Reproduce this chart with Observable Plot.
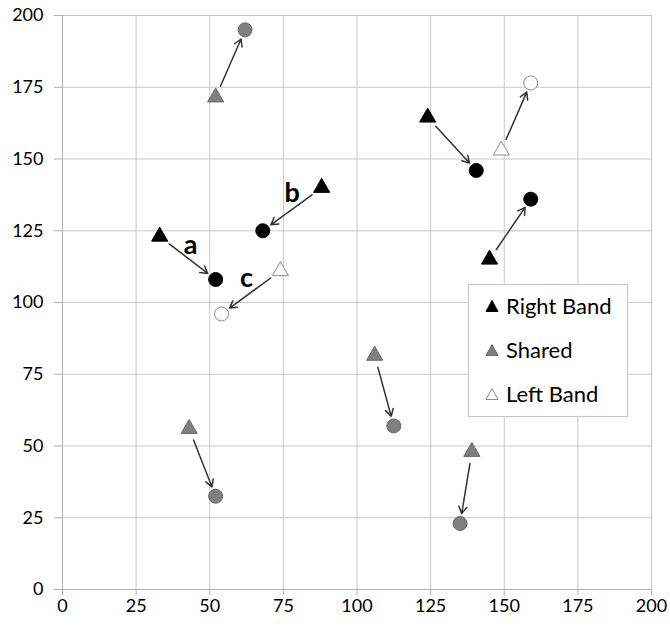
<!DOCTYPE html>
<html>
<head>
<meta charset="utf-8">
<script src="https://cdn.jsdelivr.net/npm/d3@7"></script>
<script src="https://cdn.jsdelivr.net/npm/@observablehq/plot@0.6"></script>
<style>
  html, body { margin: 0; padding: 0; background: #fff; }
  #wrap { position: relative; width: 670px; height: 636px; font-family: Lato, "Open Sans", sans-serif; }
  #legend { position: absolute; left: 468px; top: 284px; width: 160px; height: 133px;
            border: 1px solid #c4c4c4; background: #fff; box-sizing: border-box; }
  .item { position: absolute; left: 16px; display: flex; align-items: center; font-size: 22px; color: #000; }
  .item svg { margin-right: 7px; }
</style>
</head>
<body>
<div id="wrap"></div>
<script>
// --- data ---
const band   = ["shared", "right", "right", "left", "right", "left", "right", "shared", "shared", "shared"];
const startX = [52, 33, 88, 74, 124, 149, 145, 106, 43, 139];      // triangles
const startY = [171.5, 123, 140, 111, 164.5, 153, 115, 81.5, 56, 48];
const endX   = [62, 52, 68, 54, 140.5, 159, 159, 112.5, 52, 135]; // circles
const endY   = [195, 108, 125, 96, 146, 176.5, 136, 57, 32.5, 23];

const labelText = ["a", "b", "c"];
const labelX = [43.5, 78, 62.5];
const labelY = [120, 138, 108.5];

const xTicks = [0, 25, 50, 75, 100, 125, 150, 175, 200];
const yTicks = [0, 25, 50, 75, 100, 125, 150, 175, 200];

const legendKeys   = ["right", "shared", "left"];
const legendLabels = ["Right Band", "Shared", "Left Band"];
const bandFill   = {right: "#000000", shared: "#7f7f7f", left: "#ffffff"};
const bandStroke = {right: "#000000", shared: "#6a6a6a", left: "#8a8a8a"};

// --- build ---
const rows = band.map((b, i) => ({band: b, x1: startX[i], y1: startY[i], x2: endX[i], y2: endY[i]}));
const labels = labelText.map((t, i) => ({t, x: labelX[i], y: labelY[i]}));

const hasAxisMarks = typeof Plot.axisY === "function";

const marks = [
  Plot.ruleX(xTicks, {stroke: "#c8c8c8", strokeWidth: 1}),
  Plot.ruleY(yTicks, {stroke: "#c8c8c8", strokeWidth: 1}),
  Plot.ruleX([0], {stroke: "#b0b0b0"}),
  Plot.ruleY([0], {stroke: "#b0b0b0"})
];
if (hasAxisMarks) {
  marks.push(Plot.axisX({ticks: xTicks, tickSize: 6, tickPadding: 4, label: null, stroke: "#b0b0b0", color: "#000"}));
  marks.push(Plot.axisY({ticks: yTicks, tickSize: 8, tickPadding: 11, label: null, stroke: "#b0b0b0", color: "#000"}));
}
marks.push(Plot.arrow(rows, {x1: "x1", y1: "y1", x2: "x2", y2: "y2", stroke: "#333", strokeWidth: 1.5,
                    insetStart: 12, insetEnd: 10, headLength: 8}));
for (const k of legendKeys) {
  const sub = rows.filter(d => d.band === k);
  marks.push(Plot.dot(sub, {x: "x1", y: "y1", symbol: "triangle", r: 6, fill: bandFill[k], stroke: bandStroke[k], strokeWidth: 1}));
  marks.push(Plot.dot(sub, {x: "x2", y: "y2", symbol: "circle", r: 7, fill: bandFill[k], stroke: bandStroke[k], strokeWidth: 1}));
}
marks.push(Plot.text(labels, {x: "x", y: "y", text: "t", fontSize: 27, fontWeight: "bold", fill: "#000"}));

const chart = Plot.plot({
  width: 670,
  height: 636,
  marginLeft: 62,
  marginRight: 19,
  marginTop: 15,
  marginBottom: 47,
  style: {fontFamily: "Lato, 'Open Sans', sans-serif", fontSize: "18px", background: "#fff", color: "#000"},
  x: hasAxisMarks ? {domain: [0, 200], axis: null} :
     {domain: [0, 200], ticks: xTicks, tickSize: 6, tickPadding: 4, label: null, line: false},
  y: hasAxisMarks ? {domain: [0, 200], axis: null} :
     {domain: [0, 200], ticks: yTicks, tickSize: 8, tickPadding: 11, label: null, line: false},
  marks
});
const wrap = document.getElementById("wrap");
wrap.appendChild(chart);

// legend overlay
const legend = document.createElement("div");
legend.id = "legend";
const tops = [7, 51, 95];
legendKeys.forEach((k, i) => {
  const it = document.createElement("div");
  it.className = "item";
  it.style.top = tops[i] + "px";
  it.innerHTML = `<svg width="14" height="14" viewBox="0 0 14 14"><path d="M7,1.5 L13,12.5 L1,12.5 Z" fill="${bandFill[k]}" stroke="${bandStroke[k]}" stroke-width="1"/></svg><span>${legendLabels[i]}</span>`;
  legend.appendChild(it);
});
wrap.appendChild(legend);
</script>
</body>
</html>
